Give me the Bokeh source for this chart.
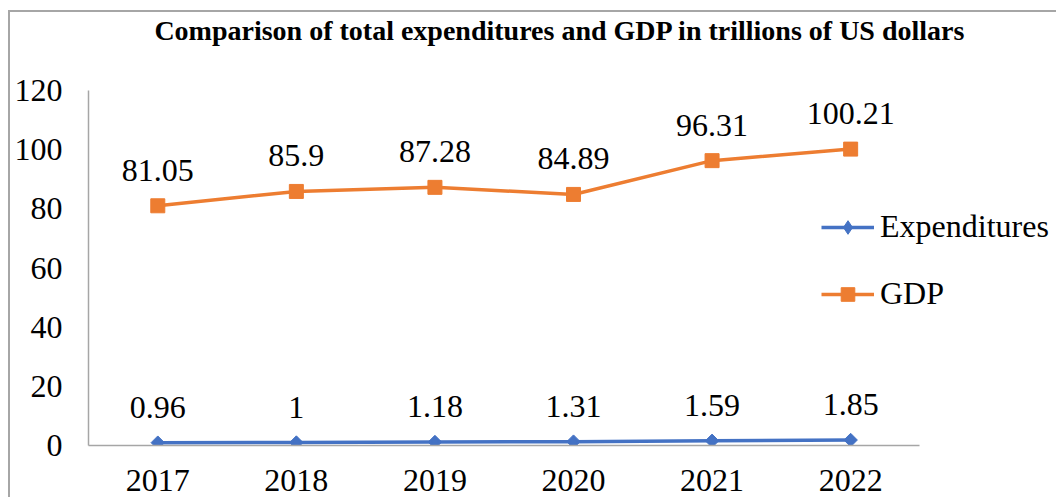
import math
from bokeh.plotting import figure
from bokeh.models import (Range1d, FactorRange, FixedTicker, ColumnDataSource, LabelSet, Label,
                          Legend, LegendItem)
from bokeh.embed import file_html
from bokeh.resources import INLINE

# ---- data ----
years = ["2017", "2018", "2019", "2020", "2021", "2022"]
expenditures = [0.96, 1.00, 1.18, 1.31, 1.59, 1.85]
gdp = [81.05, 85.90, 87.28, 84.89, 96.31, 100.21]
y_ticks = [0, 20, 40, 60, 80, 100, 120]
title_text = "Comparison of total expenditures and GDP in trillions of US dollars"

BLUE = "#4472C4"
ORANGE = "#ED7D31"
GRAY = "#a6a6a6"
FONT = "Liberation Serif"

# extra blank slot on the right leaves room for the legend inside the frame
x_range = FactorRange(factors=years + [" "], range_padding=0)
y_range = Range1d(0, 146.4)

p = figure(x_range=x_range, y_range=y_range, width=1048, height=487,
           output_backend="svg", toolbar_location=None,
           min_border_left=78, min_border_right=0, min_border_top=0, min_border_bottom=54)
p.styles = {"margin-left": "8px", "margin-top": "10px",
            "border-top": f"2px solid {GRAY}", "border-left": f"2px solid {GRAY}"}
p.outline_line_color = None
p.xgrid.grid_line_color = None
p.ygrid.grid_line_color = None
p.background_fill_color = "white"
p.border_fill_color = "white"

# axes
p.yaxis.ticker = FixedTicker(ticks=y_ticks)
p.yaxis.bounds = (y_ticks[0], y_ticks[-1])
p.xaxis.bounds = (0, len(years))
for ax in (p.xaxis[0], p.yaxis[0]):
    ax.axis_line_color = GRAY
    ax.axis_line_width = 1.5
    ax.major_tick_line_color = None
    ax.minor_tick_line_color = None
    ax.major_tick_out = 0
    ax.major_tick_in = 0
    ax.minor_tick_out = 0
    ax.major_label_text_font = FONT
    ax.major_label_text_font_size = "32px"
    ax.major_label_text_color = "black"
p.yaxis.major_label_standoff = 26
p.xaxis.major_label_standoff = 24

src = ColumnDataSource(dict(
    x=years, exp=expenditures, gdp=gdp,
    exp_t=[f"{v:g}" for v in expenditures],
    gdp_t=[f"{v:g}" for v in gdp],
))

l1 = p.line("x", "exp", source=src, line_color=BLUE, line_width=3.5)
s1 = p.scatter("x", "exp", source=src, marker="square", angle=math.pi / 4, size=9.5,
               fill_color=BLUE, line_color=BLUE)
# diamond (drawn inside the rotated square) used for the legend symbol
s1d = p.scatter("x", "exp", source=src, marker="diamond", size=11,
                fill_color=BLUE, line_color=BLUE)
l2 = p.line("x", "gdp", source=src, line_color=ORANGE, line_width=3.5)
s2 = p.scatter("x", "gdp", source=src, marker="square", size=14,
               fill_color=ORANGE, line_color=ORANGE)

for col, tcol in (("exp", "exp_t"), ("gdp", "gdp_t")):
    p.add_layout(LabelSet(x="x", y=col, text=tcol, source=src, y_offset=25,
                          text_align="center", text_baseline="alphabetic",
                          text_font=FONT, text_font_size="32px", text_color="black"))

# chart title
p.add_layout(Label(x=0.4754, y=140.3, text=title_text, text_align="left",
                   text_baseline="alphabetic", text_font=FONT, text_font_style="bold",
                   text_font_size="28px", text_color="black"))

legend = Legend(items=[LegendItem(label="Expenditures", renderers=[l1, s1d]),
                       LegendItem(label="GDP", renderers=[l2, s2])],
                location=(733, 133), padding=0, margin=0, spacing=30,
                glyph_width=53, glyph_height=34, label_height=36, label_standoff=6,
                label_text_font=FONT, label_text_font_size="32px", label_text_color="black",
                border_line_color=None, background_fill_alpha=0)
p.add_layout(legend)

open("out.html", "w").write(file_html(p, INLINE))
